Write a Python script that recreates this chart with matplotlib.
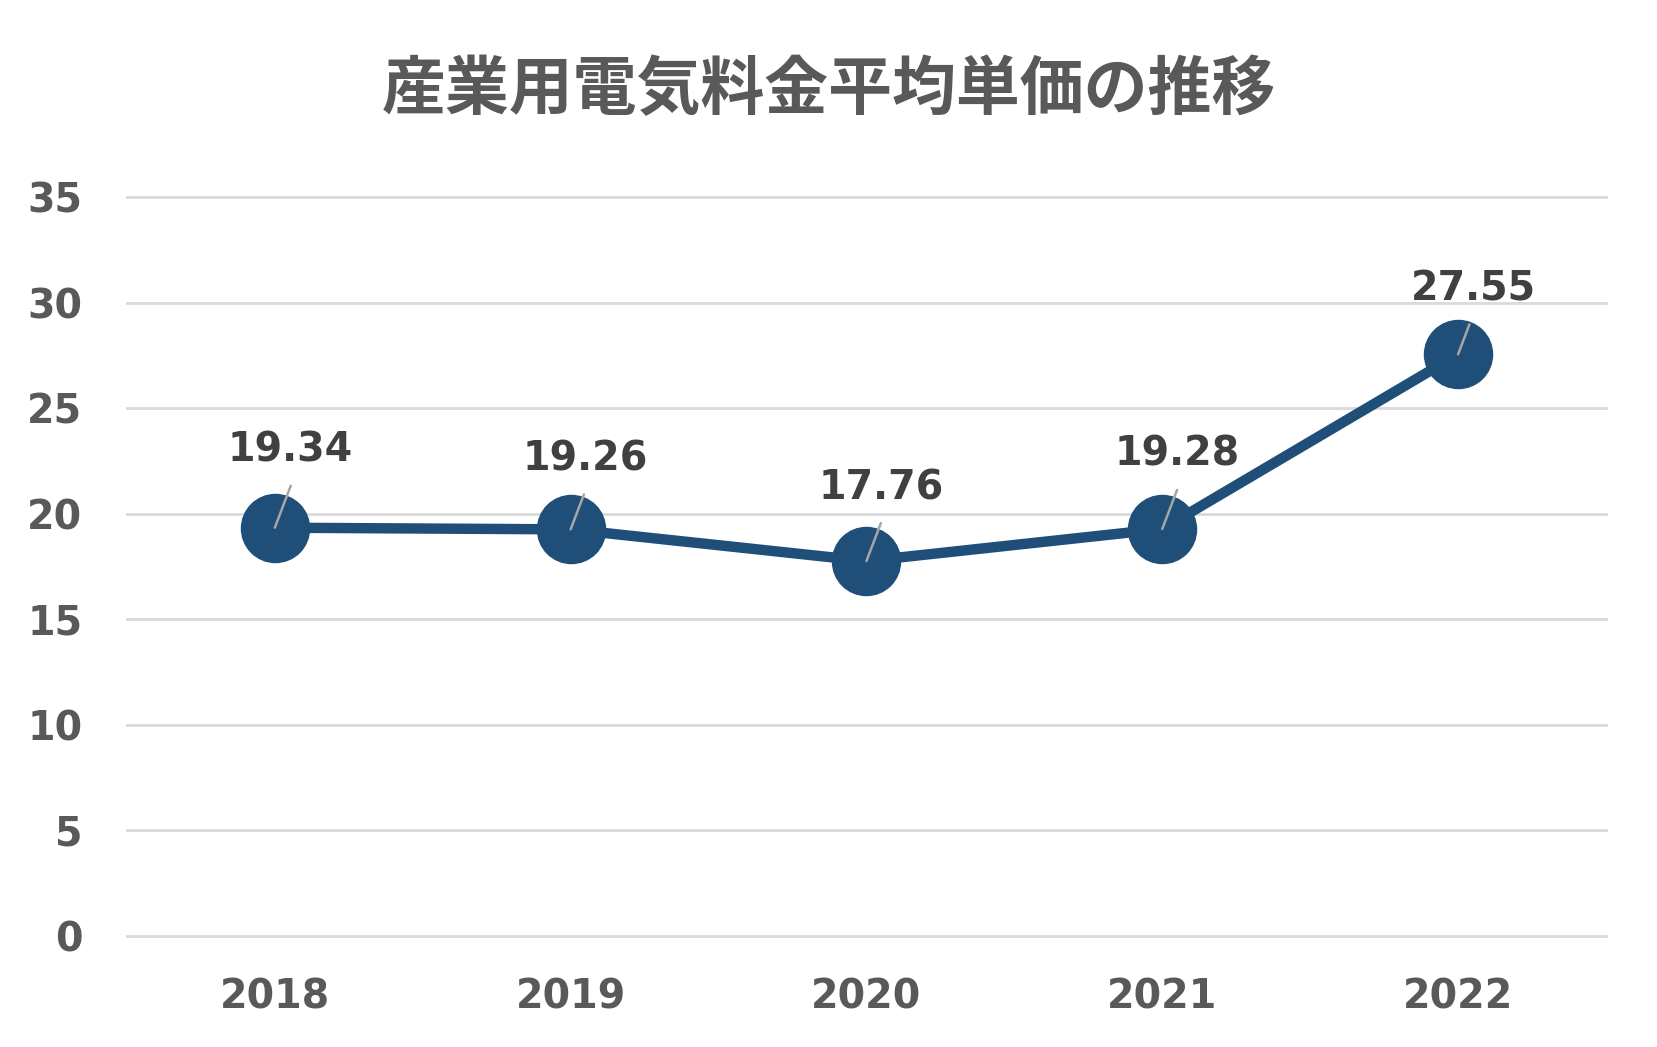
import matplotlib
matplotlib.use("Agg")
import matplotlib.pyplot as plt

# --- data ---
years = ["2018", "2019", "2020", "2021", "2022"]
prices = [19.34, 19.26, 17.76, 19.28, 27.55]
title = "産業用電気料金平均単価の推移"

# label offsets above each marker (pixels)
label_dy = [57, 50, 53, 54, 45]

plt.rcParams["font.family"] = ["DejaVu Sans", "Noto Sans CJK JP"]

fig = plt.figure(figsize=(16.57, 10.47), dpi=100)
ax = fig.add_axes([0.0766, 0.106, 0.8926, 0.7058])

x = list(range(len(years)))
line_color = "#1F4E79"

ax.plot(x, prices, color=line_color, lw=7.5, marker="o", markersize=49,
        markerfacecolor=line_color, markeredgecolor=line_color, zorder=3,
        solid_capstyle="butt")

for xi, v, dy in zip(x, prices, label_dy):
    lead = dy - 15
    # leader line
    ax.annotate("", xy=(xi, v), xytext=(0.38 * lead, lead), textcoords="offset pixels",
                arrowprops=dict(arrowstyle="-", color="#A6A6A6", lw=1.8,
                                shrinkA=0, shrinkB=0), zorder=4)
    ax.annotate(f"{v:.2f}", xy=(xi, v), xytext=(15, dy), textcoords="offset pixels",
                ha="center", va="bottom", fontsize=28.5, fontweight="bold",
                color="#404040", zorder=5)

ax.set_xlim(-0.5, len(years) - 0.5)
ax.set_ylim(0, 35)
ax.set_yticks(range(0, 36, 5))
ax.set_xticks(x)
ax.set_xticklabels(years)

ax.grid(axis="y", color="#D9D9D9", lw=2)
ax.set_axisbelow(True)
for gl in ax.get_ygridlines():
    gl.set_clip_on(False)
for s in ax.spines.values():
    s.set_visible(False)
ax.tick_params(axis="both", length=0, labelsize=28.5, labelcolor="#595959")
ax.tick_params(axis="y", pad=32)
ax.tick_params(axis="x", pad=30)
for lab in ax.get_xticklabels() + ax.get_yticklabels():
    lab.set_fontweight("bold")

fig.text(0.5, 0.914, title, ha="center", va="center", fontsize=46,
         fontweight="bold", color="#595959", family=["Noto Sans CJK JP", "DejaVu Sans"])

fig.savefig("out.png", dpi=100, facecolor="white")
